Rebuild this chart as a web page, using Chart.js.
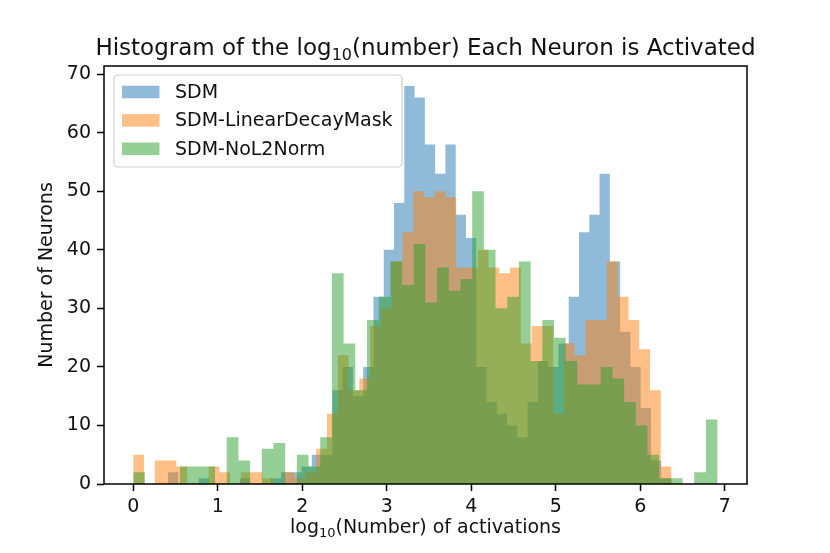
<!DOCTYPE html>
<html>
<head>
<meta charset="utf-8">
<script src="https://cdn.jsdelivr.net/npm/chart.js@4.4.1/dist/chart.umd.min.js"></script>
<style>
  html, body { margin: 0; padding: 0; background: #fff; }
  #wrap { width: 830px; height: 553px; }
</style>
</head>
<body>
<div id="wrap"><canvas id="histChart" width="830" height="553"></canvas></div>
<script>
// histogram bins: each series has its own 50 bins (start, width in log10 units)
const seriesNames = ['SDM', 'SDM-LinearDecayMask', 'SDM-NoL2Norm'];

const sdmStart = 0.411;
const sdmWidth = 0.1216;
const sdmCounts = [2, 0, 0, 1, 0, 0, 0, 1, 0, 0,
                   1, 2, 2, 3, 5, 5, 16, 20, 15, 20,
                   32, 40, 48, 68, 66, 58, 53, 58, 46, 42,
                   20, 14, 12, 10, 8, 14, 21, 20, 24, 32,
                   43, 46, 53, 38, 26, 20, 13, 4, 1, 0];

const linearStart = 0;
const linearWidth = 0.1274;
const linearCounts = [5, 0, 4, 4, 3, 0, 0, 3, 2, 0,
                      2, 2, 1, 0, 2, 1, 2, 6, 12, 22,
                      16, 18, 27, 30, 38, 43, 50, 49, 50, 49,
                      37, 37, 40, 37, 36, 37, 24, 27, 27, 12,
                      24, 22, 28, 28, 38, 32, 28, 23, 16, 3];

const noL2Start = 0;
const noL2Width = 0.1383;
const noL2Counts = [2, 0, 0, 0, 3, 3, 3, 0, 8, 4,
                    0, 6, 7, 0, 5, 3, 8, 36, 24, 16,
                    28, 32, 38, 34, 41, 31, 37, 33, 35, 50,
                    40, 30, 32, 38, 21, 28, 25, 21, 17, 17,
                    20, 18, 14, 10, 5, 1, 1, 0, 2, 11];

const xTicks = [0, 1, 2, 3, 4, 5, 6, 7];
const yTicks = [0, 10, 20, 30, 40, 50, 60, 70];

const FONT = "'DejaVu Sans', 'Liberation Sans', sans-serif";
const colors = ['rgba(31, 119, 180, 0.5)', 'rgba(255, 127, 14, 0.5)', 'rgba(44, 160, 44, 0.5)'];

// left bin edges carry the count, last edge closes the step
function stepPoints(start, width, counts) {
    const pts = counts.map((c, i) => ({ x: start + i * width, y: c }));
    pts.push({ x: start + counts.length * width, y: 0 });
    return pts;
}

function histDataset(label, pts, color, order) {
    return {
        label: label,
        data: pts,
        stepped: true,
        fill: 'origin',
        backgroundColor: color,
        borderColor: 'rgba(0,0,0,0)',
        borderWidth: 0,
        pointRadius: 0,
        pointHoverRadius: 0,
        order: order
    };
}

// text with a "10" subscript, centred on cx
function drawWithSub(ctx, before, sub, after, cx, y, size) {
    const big = size + 'px ' + FONT;
    const small = Math.round(size * 0.7) + 'px ' + FONT;
    ctx.font = big;
    const w1 = ctx.measureText(before).width;
    const w3 = ctx.measureText(after).width;
    ctx.font = small;
    const w2 = ctx.measureText(sub).width;
    let x = cx - (w1 + w2 + w3) / 2;
    ctx.textAlign = 'left';
    ctx.textBaseline = 'alphabetic';
    ctx.font = big;
    ctx.fillText(before, x, y);
    x += w1;
    ctx.font = small;
    ctx.fillText(sub, x, y + size * 0.22);
    x += w2;
    ctx.font = big;
    ctx.fillText(after, x, y);
}

const decorations = {
    id: 'decorations',
    afterDraw(chart) {
        const ctx = chart.ctx;
        const a = chart.chartArea;
        ctx.save();

        // frame
        ctx.strokeStyle = '#000';
        ctx.lineWidth = 1.5;
        ctx.strokeRect(a.left, a.top, a.right - a.left, a.bottom - a.top);

        ctx.fillStyle = '#111';
        drawWithSub(ctx, 'Histogram of the log', '10', '(number) Each Neuron is Activated',
            (a.left + a.right) / 2, 55, 23);
        drawWithSub(ctx, 'log', '10', '(Number) of activations',
            (a.left + a.right) / 2, 533, 19);

        ctx.save();
        ctx.translate(47, (a.top + a.bottom) / 2);
        ctx.rotate(-Math.PI / 2);
        ctx.font = '19px ' + FONT;
        ctx.textAlign = 'center';
        ctx.textBaseline = 'middle';
        ctx.fillText('Number of Neurons', 0, 0);
        ctx.restore();

        // legend box, upper left
        const bx = a.left + 10, by = a.top + 9, bw = 288, bh = 92, r = 4;
        ctx.beginPath();
        ctx.moveTo(bx + r, by);
        ctx.arcTo(bx + bw, by, bx + bw, by + bh, r);
        ctx.arcTo(bx + bw, by + bh, bx, by + bh, r);
        ctx.arcTo(bx, by + bh, bx, by, r);
        ctx.arcTo(bx, by, bx + bw, by, r);
        ctx.closePath();
        ctx.fillStyle = 'rgba(255,255,255,0.8)';
        ctx.fill();
        ctx.strokeStyle = '#d0d0d0';
        ctx.lineWidth = 1.2;
        ctx.stroke();

        ctx.font = '19px ' + FONT;
        ctx.textAlign = 'left';
        ctx.textBaseline = 'middle';
        seriesNames.forEach((name, i) => {
            const cy = by + 17 + i * 28.4;
            ctx.fillStyle = colors[i];
            ctx.fillRect(bx + 8, cy - 6.3, 37.5, 12.6);
            ctx.fillStyle = '#111';
            ctx.fillText(name, bx + 61, cy + 1);
        });
        ctx.restore();
    }
};

const ctx = document.getElementById('histChart');
new Chart(ctx, {
    type: 'line',
    data: {
        datasets: [
            histDataset(seriesNames[0], stepPoints(sdmStart, sdmWidth, sdmCounts), colors[0], 3),
            histDataset(seriesNames[1], stepPoints(linearStart, linearWidth, linearCounts), colors[1], 2),
            histDataset(seriesNames[2], stepPoints(noL2Start, noL2Width, noL2Counts), colors[2], 1)
        ]
    },
    options: {
        responsive: false,
        animation: false,
        devicePixelRatio: 1,
        layout: {
            padding: { top: 66, right: 83, bottom: 0, left: 0 }
        },
        plugins: {
            legend: { display: false },
            tooltip: { enabled: false },
            title: { display: false }
        },
        scales: {
            x: {
                type: 'linear',
                min: -0.346,
                max: 7.263,
                afterFit: function(scale) { scale.height = 69; },
                afterBuildTicks: function(scale) { scale.ticks = xTicks.map(v => ({ value: v })); },
                border: { display: false },
                grid: {
                    drawOnChartArea: false,
                    drawTicks: true,
                    tickLength: 7,
                    tickWidth: 1.5,
                    tickColor: '#000'
                },
                ticks: {
                    padding: 5,
                    color: '#111',
                    font: { family: FONT, size: 19 },
                    maxRotation: 0,
                    callback: function(value) { return value; }
                }
            },
            y: {
                min: 0,
                max: 71.4,
                afterFit: function(scale) { scale.width = 104; },
                afterBuildTicks: function(scale) { scale.ticks = yTicks.map(v => ({ value: v })); },
                border: { display: false },
                grid: {
                    drawOnChartArea: false,
                    drawTicks: true,
                    tickLength: 7,
                    tickWidth: 1.5,
                    tickColor: '#000'
                },
                ticks: {
                    padding: 6,
                    color: '#111',
                    font: { family: FONT, size: 19 },
                    callback: function(value) { return value; }
                }
            }
        }
    },
    plugins: [decorations]
});
</script>
</body>
</html>
